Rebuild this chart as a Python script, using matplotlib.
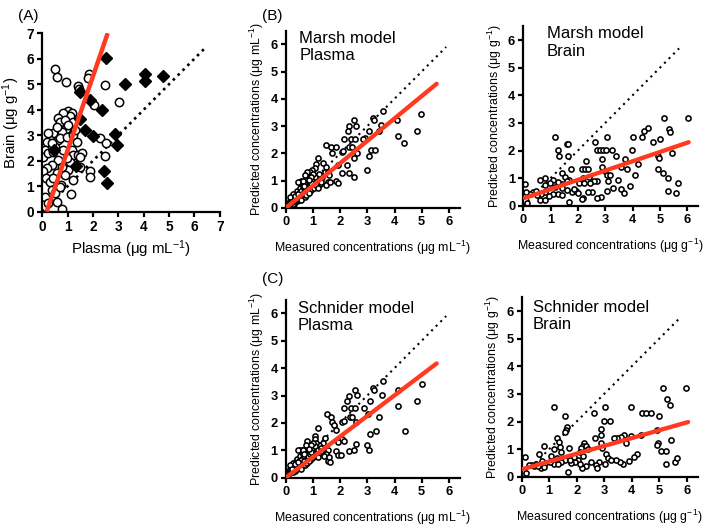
import matplotlib
matplotlib.use("Agg")
import matplotlib.pyplot as plt
import numpy as np

plt.rcParams['font.family'] = ['Liberation Sans', 'DejaVu Sans']
plt.rcParams['mathtext.default'] = 'regular'

# ---------------- Panel A data ----------------
A_circ_x = [0.50, 0.59, 0.92, 1.86, 1.82, 2.47, 1.42, 1.46, 3.03, 2.04, 1.03, 1.16, 1.09, 0.83,
            0.63, 0.70, 0.89, 0.93, 1.22, 1.03, 0.76, 0.63, 0.43, 0.30, 0.24, 0.17, 0.50, 0.70,
            0.96, 1.22, 1.36, 1.16, 0.11, 0.04, 0.24, 0.43, 0.63, 0.37, 1.22, 1.42, 1.55, 1.49,
            2.28, 2.47, 2.51, 1.88, 1.88, 1.09, 1.03, 1.22, 1.49, 0.76, 0.57, 0.17, 0.04, 0.14,
            0.30, 0.72, 0.37, 0.50, 1.13, 0.57, 0.76, 0.11, 0.24, 0.89, 0.43, 0.83, 0.96, 0.70,
            0.37, 0.57, 1.29]
A_circ_y = [5.59, 5.27, 5.08, 5.41, 5.24, 4.97, 4.93, 4.80, 4.32, 4.19, 3.93, 3.86, 3.77, 3.86,
            3.66, 3.53, 3.60, 3.23, 3.53, 3.40, 3.14, 2.81, 3.08, 2.81, 3.08, 2.75, 2.55, 2.88,
            2.94, 3.01, 2.75, 2.42, 2.42, 2.16, 2.29, 2.36, 2.03, 1.83, 2.23, 2.23, 2.29, 2.13,
            2.88, 2.19, 2.68, 1.61, 1.35, 1.96, 1.64, 1.24, 1.77, 1.77, 1.51, 1.70, 1.61, 1.31,
            1.18, 1.05, 0.85, 0.72, 0.69, 0.39, 0.09, 0.59, 0.33, 1.44, 1.31, 2.42, 2.09, 0.98,
            2.68, 3.34, 3.21]
A_dia_x = [2.52, 4.07, 4.07, 4.78, 3.28, 1.47, 1.88, 2.34, 1.67, 2.01, 2.86, 2.95, 1.34, 2.43,
           2.56, 0.45, 1.47]
A_dia_y = [6.02, 5.41, 5.12, 5.33, 5.00, 4.68, 4.38, 3.99, 3.21, 2.97, 3.05, 2.60, 1.78, 1.59,
           1.14, 2.40, 3.62]
A_fit_x = [0.17, 2.58]
A_fit_y = [0.0, 7.0]
A_id = [0.0, 6.45]

# ---------------- Panel B (Marsh) ----------------
BP_x = [4.99, 4.82, 4.11, 4.12, 4.35, 3.59, 3.20, 3.23, 3.50, 3.44, 3.07, 2.91, 3.13, 3.29, 3.05,
        2.99, 2.52, 2.60, 2.34, 2.28, 2.13, 2.40, 2.56, 2.83, 2.34, 2.44, 2.61, 2.52, 2.26, 2.07,
        2.32, 2.50, 2.07, 2.12, 1.49, 1.67, 1.85, 1.71, 1.93, 1.85, 1.91, 1.18, 1.10, 1.06,
        1.37, 1.49, 1.43, 1.55, 1.61, 1.35, 1.22, 0.98, 0.88, 0.76, 0.78, 0.70, 0.57, 0.51, 0.45,
        1.55, 1.47, 1.62,
        0.05, 0.10, 0.12, 0.15, 0.18, 0.20, 0.22, 0.25, 0.28, 0.30, 0.32, 0.35, 0.38, 0.40, 0.42,
        0.45, 0.48, 0.50, 0.52, 0.55, 0.58, 0.60, 0.62, 0.65, 0.68, 0.70, 0.72, 0.75, 0.78, 0.80,
        0.82, 0.85, 0.88, 0.90, 0.95, 0.98, 1.00, 1.05, 1.08, 1.12, 1.15, 1.20, 1.25, 1.30, 1.02,
        0.92, 0.62, 0.40, 0.28, 0.15,
        0.08, 0.18, 0.26, 0.34, 0.44, 0.53, 0.57, 0.66, 0.74, 0.84, 0.93, 1.10, 1.18, 0.36, 0.47,
        0.69, 0.87, 1.28, 0.24, 0.58]
BP_y = [3.43, 2.82, 3.22, 2.62, 2.37, 3.55, 3.30, 3.22, 3.04, 2.83, 2.83, 2.55, 2.12, 2.12, 1.90,
        1.40, 3.22, 3.00, 3.01, 2.82, 2.52, 2.52, 2.52, 2.52, 2.22, 2.22, 2.00, 1.82, 1.57, 1.30,
        1.27, 1.13, 2.04, 2.09, 2.30, 2.22, 2.22, 2.00, 1.57, 0.99, 0.90, 1.82, 1.61, 1.48,
        1.65, 1.52, 1.31, 1.31, 1.21, 1.15, 1.24, 1.39, 1.31, 1.21, 1.31, 1.21, 0.99, 0.95, 0.95,
        0.97, 0.85, 0.95,
        0.03, 0.10, 0.18, 0.25, 0.12, 0.30, 0.20, 0.38, 0.28, 0.45, 0.15, 0.35, 0.52, 0.25, 0.62,
        0.40, 0.30, 0.55, 0.72, 0.45, 0.35, 0.62, 0.80, 0.50, 0.70, 0.40, 0.58, 0.88, 0.65, 0.50,
        0.75, 0.95, 0.62, 0.80, 0.70, 1.05, 0.85, 0.75, 1.12, 0.92, 0.80, 1.00, 0.88, 1.05, 1.25,
        1.15, 1.00, 0.48, 0.50, 0.40,
        0.06, 0.22, 0.15, 0.28, 0.32, 0.40, 0.62, 0.58, 0.48, 0.55, 0.92, 0.85, 0.72, 0.44, 0.52,
        0.82, 1.02, 0.95, 0.22, 0.28]
BP_fit_x = [0.0, 5.55]
BP_fit_y = [0.0, 4.55]
BP_id = [0.0, 5.9]

BB_x = [6.04, 5.16, 5.33, 5.37, 4.56, 4.41, 4.34, 4.02, 4.73, 5.00, 4.94, 4.98, 5.44, 4.94, 5.10,
        5.28, 5.67, 5.28, 5.60, 3.98, 3.71, 3.78, 3.56, 4.18, 4.09, 3.48, 3.57, 3.90, 3.68, 3.07,
        2.62, 2.71, 2.80, 2.90, 3.02, 3.23, 3.38, 2.87, 2.89, 2.99, 3.05, 3.17, 2.71, 3.11, 3.27,
        3.07, 2.84, 2.71, 2.29, 2.16, 2.26, 2.35, 2.41, 2.20, 2.05, 2.23, 2.50, 2.38, 2.20, 2.13,
        1.16, 1.59, 1.63, 1.28, 1.32, 1.65, 1.73, 1.40, 1.52, 1.68, 1.59, 1.40, 1.28, 1.10, 0.79,
        0.61, 0.98, 1.16, 1.40, 1.59, 1.77, 1.93, 1.28, 1.40, 1.07, 0.95, 0.79, 0.63, 0.49, 0.37,
        0.24, 0.10, 0.06, 0.61, 0.79, 1.68, 0.15, 0.79, 0.45, 2.00, 1.85, 2.60, 2.45]
BB_y = [3.19, 3.19, 2.78, 2.66, 2.80, 2.71, 2.50, 2.50, 2.29, 2.42, 1.81, 1.74, 1.90, 1.32, 1.20,
        1.01, 0.83, 0.54, 0.45, 2.02, 1.69, 1.34, 1.41, 1.50, 1.11, 0.93, 0.60, 0.71, 0.45, 2.50,
        2.29, 2.02, 2.02, 2.02, 2.02, 2.02, 1.81, 1.71, 1.41, 1.26, 1.11, 1.11, 0.89, 0.89, 0.63,
        0.53, 0.33, 0.27, 1.62, 1.32, 1.32, 1.32, 1.05, 0.99, 0.81, 0.81, 0.51, 0.51, 0.29, 0.24,
        2.50, 2.22, 2.22, 2.02, 1.81, 1.81, 1.33, 1.17, 1.05, 0.93, 0.89, 0.79, 0.85, 0.93, 1.01,
        0.93, 0.81, 0.69, 0.65, 0.57, 0.51, 0.53, 0.41, 0.39, 0.41, 0.36, 0.51, 0.41, 0.38, 0.48,
        0.41, 0.51, 0.79, 0.20, 0.20, 0.14, 0.11, 0.75, 0.55, 0.45, 0.60, 0.90, 0.82]
BB_fit_x = [0.05, 6.05]
BB_fit_y = [0.28, 2.30]
BB_id = [0.0, 5.7]

# ---------------- Panel C (Schnider) ----------------
CP_x = [5.02, 4.83, 4.13, 4.14, 4.38, 3.58, 3.21, 3.25, 3.54, 3.09, 3.03, 3.42, 2.60, 3.31, 3.11,
        3.00, 3.06, 2.54, 2.62, 2.33, 2.27, 2.14, 2.41, 2.53, 2.87, 2.35, 2.44, 1.50, 1.65, 1.72,
        1.76, 2.08, 2.14, 1.86, 2.08, 2.14, 1.92, 2.33, 2.51, 2.57, 1.86, 1.92, 2.05, 1.19, 1.07,
        1.07, 1.43, 1.37, 1.22, 1.12, 0.78, 0.73, 0.63, 0.51, 0.45, 1.55, 1.48, 1.40, 1.55, 1.60,
        1.62,
        0.05, 0.08, 0.12, 0.15, 0.18, 0.20, 0.23, 0.25, 0.28, 0.30, 0.33, 0.35, 0.38, 0.40, 0.42,
        0.45, 0.48, 0.50, 0.53, 0.55, 0.58, 0.60, 0.62, 0.65, 0.68, 0.70, 0.72, 0.75, 0.78, 0.80,
        0.83, 0.85, 0.88, 0.90, 0.95, 0.98, 1.00, 1.05, 1.08, 1.12, 1.15, 1.20, 1.25, 1.30, 1.02,
        0.92, 0.62, 0.40, 0.28, 0.15,
        0.10, 0.20, 0.27, 0.36, 0.44, 0.52, 0.57, 0.66, 0.74, 0.84, 0.93, 1.10, 1.18, 0.34, 0.47,
        0.69, 0.87, 1.28, 0.22, 0.58]
CP_y = [3.41, 2.81, 3.20, 2.60, 1.72, 3.53, 3.28, 3.20, 3.02, 2.81, 2.31, 2.20, 2.02, 1.70, 1.59,
        1.19, 1.01, 3.20, 3.03, 2.99, 2.80, 2.53, 2.53, 2.53, 2.53, 2.23, 2.23, 2.31, 2.20, 2.02,
        1.92, 2.04, 2.07, 1.74, 1.41, 1.34, 1.31, 0.97, 1.01, 1.22, 0.97, 0.83, 0.83, 1.82, 1.53,
        1.41, 1.44, 1.25, 1.18, 1.28, 1.34, 1.20, 1.00, 1.00, 1.00, 1.00, 0.88, 0.80, 0.62, 0.75,
        0.58,
        0.05, 0.15, 0.22, 0.30, 0.20, 0.38, 0.28, 0.45, 0.35, 0.52, 0.25, 0.42, 0.60, 0.32, 0.70,
        0.48, 0.38, 0.62, 0.78, 0.50, 0.42, 0.68, 0.85, 0.55, 0.75, 0.45, 0.62, 0.92, 0.70, 0.55,
        0.80, 1.00, 0.65, 0.85, 0.72, 1.08, 0.88, 0.78, 1.15, 0.95, 0.82, 1.02, 0.90, 1.08, 1.28,
        1.18, 1.02, 0.55, 0.55, 0.45,
        0.10, 0.28, 0.20, 0.34, 0.38, 0.46, 0.66, 0.62, 0.52, 0.60, 0.95, 0.88, 0.76, 0.50, 0.56,
        0.86, 1.05, 0.98, 0.30, 0.32]
CP_fit_x = [0.0, 5.55]
CP_fit_y = [0.0, 4.17]
CP_id = [0.0, 5.9]

CB_x = [5.99, 5.12, 5.30, 5.38, 4.38, 4.53, 4.69, 4.99, 4.93, 4.96, 4.93, 5.08, 5.26, 5.42, 5.26,
        5.59, 5.66, 3.99, 4.33, 3.99, 3.72, 3.60, 3.48, 3.36, 3.78, 4.21, 4.08, 3.90, 3.68, 3.56,
        3.44, 3.04, 2.99, 3.20, 2.63, 2.90, 2.87, 2.68, 2.90, 2.92, 3.08, 3.14, 3.24, 3.04, 2.80,
        2.71, 2.75, 2.53, 2.27, 2.23, 2.35, 2.17, 2.41, 2.11, 2.23, 2.05, 1.93, 2.35, 2.19, 2.11,
        1.18, 1.59, 1.66, 1.62, 1.56, 1.30, 1.35, 1.38, 1.44, 1.72, 1.18, 0.81, 0.62, 1.05, 1.30,
        1.56, 1.42, 1.81, 1.18, 1.02, 0.86, 0.72, 0.53, 0.38, 0.25, 0.11, 0.69, 0.81, 1.32, 1.68,
        0.15, 0.45, 0.60, 1.90, 1.75]
CB_y = [3.20, 3.20, 2.81, 2.60, 2.32, 2.32, 2.32, 2.21, 1.71, 1.23, 1.15, 0.93, 0.93, 1.33, 0.45,
        0.52, 0.66, 2.51, 1.51, 1.49, 1.51, 1.45, 1.41, 1.41, 1.21, 0.81, 0.72, 0.57, 0.45, 0.52,
        0.60, 2.51, 2.02, 2.02, 2.32, 1.73, 1.51, 1.41, 1.23, 1.05, 0.82, 0.69, 0.60, 0.45, 0.52,
        0.42, 0.30, 0.54, 1.21, 1.10, 1.10, 1.05, 1.00, 0.91, 0.76, 0.60, 0.54, 0.40, 0.33, 0.45,
        2.51, 2.21, 1.81, 1.69, 1.61, 1.41, 1.24, 1.09, 0.91, 1.03, 1.00, 1.11, 0.81, 0.76, 0.66,
        0.60, 0.52, 0.48, 0.45, 0.52, 0.48, 0.57, 0.45, 0.42, 0.42, 0.72, 0.33, 0.36, 0.45, 0.18,
        0.14, 0.40, 0.38, 0.70, 0.62]
CB_fit_x = [0.05, 6.05]
CB_fit_y = [0.28, 1.98]
CB_id = [0.0, 5.7]

RED = '#FF3A1E'
W, H = 708, 528
fig = plt.figure(figsize=(W / 100, H / 100), dpi=100)


def make_ax(x0, y0, x1, y1):
    return fig.add_axes([x0 / W, 1 - y0 / H, (x1 - x0) / W, (y0 - y1) / H])


def style(ax, xlim, ylim, ticks_x, ticks_y, fs):
    ax.set_xlim(*xlim)
    ax.set_ylim(*ylim)
    for s in ['top', 'right']:
        ax.spines[s].set_visible(False)
    for s in ['left', 'bottom']:
        ax.spines[s].set_linewidth(1.6)
    ax.set_xticks(ticks_x)
    ax.set_yticks(ticks_y)
    ax.tick_params(width=1.6, length=3.8, labelsize=fs, pad=2)
    for lab in ax.get_xticklabels() + ax.get_yticklabels():
        lab.set_fontweight('bold')


# Panel A
axA = make_ax(42.3, 211.7, 42.3 + 7 * 25.35, 211.7 - 7 * 25.5)
axA.plot(A_id, A_id, color='black', lw=1.9, ls=(0, (1, 1.6)), zorder=1)
axA.plot(A_circ_x, A_circ_y, 'o', ms=6.0, mfc='white', mec='black', mew=1.1, zorder=2)
axA.plot(A_dia_x, A_dia_y, 'D', ms=6.3, mfc='black', mec='black', zorder=3)
axA.plot(A_fit_x, A_fit_y, color=RED, lw=3.2, solid_capstyle='butt', zorder=4)
style(axA, (0, 7), (0, 7), range(0, 8), range(0, 8), 9.8)
axA.set_xlabel('Plasma (μg mL$^{-1}$)', fontsize=10.8, labelpad=3)
axA.set_ylabel('Brain (μg g$^{-1}$)', fontsize=10.8, labelpad=3)


def panel(x0, y0, xs, ys, px, py, fx, fy, idl, title, ylab, xlab, tx, ty):
    ax = make_ax(x0, y0, x0 + 6.4 * xs, y0 - 6.5 * ys)
    ax.plot(idl, idl, color='black', lw=1.5, ls=(0, (1, 2.1)), zorder=1)
    ax.plot(px, py, 'o', ms=3.7, mfc='white', mec='black', mew=1.15, zorder=2)
    ax.plot(fx, fy, color=RED, lw=3.1, solid_capstyle='round', zorder=3)
    style(ax, (0, 6.4), (0, 6.5), range(0, 7), range(0, 7), 9.3)
    ax.set_ylabel(ylab, fontsize=8.9, labelpad=3)
    ax.set_xlabel(xlab, fontsize=8.9, labelpad=8)
    ax.text(tx, ty, title, fontsize=12, va='top', ha='left', linespacing=1.2)
    return ax


panel(285.7, 208.0, 27.2, 27.3, BP_x, BP_y, BP_fit_x, BP_fit_y, BP_id,
      'Marsh model\nPlasma', 'Predicted concentrations (μg mL$^{-1}$)',
      'Measured concentrations (μg mL$^{-1}$)', 0.5, 6.5)
panel(523.3, 205.7, 27.33, 27.6, BB_x, BB_y, BB_fit_x, BB_fit_y, BB_id,
      'Marsh model\nBrain', 'Predicted concentrations (μg g$^{-1}$)',
      'Measured concentrations (μg g$^{-1}$)', 0.85, 6.5)
panel(285.7, 477.7, 27.2, 27.4, CP_x, CP_y, CP_fit_x, CP_fit_y, CP_id,
      'Schnider model\nPlasma', 'Predicted concentrations (μg mL$^{-1}$)',
      'Measured concentrations (μg mL$^{-1}$)', 0.45, 6.45)
panel(521.7, 476.7, 27.5, 27.6, CB_x, CB_y, CB_fit_x, CB_fit_y, CB_id,
      'Schnider model\nBrain', 'Predicted concentrations (μg g$^{-1}$)',
      'Measured concentrations (μg g$^{-1}$)', 0.4, 6.4)

fig.text(18 / W, 1 - 20 / H, '(A)', fontsize=11)
fig.text(262 / W, 1 - 20 / H, '(B)', fontsize=11)
fig.text(262 / W, 1 - 283 / H, '(C)', fontsize=11)

fig.savefig('out.png', dpi=100)
